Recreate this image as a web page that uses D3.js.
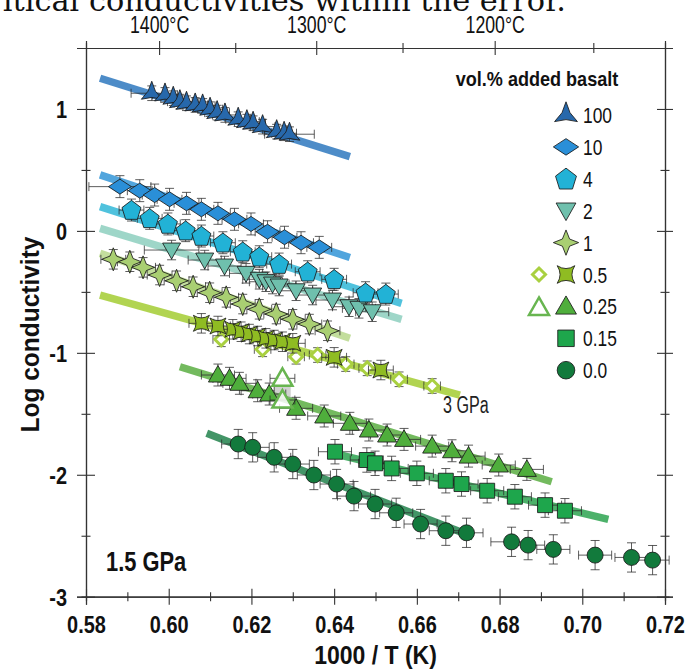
<!DOCTYPE html>
<html><head><meta charset="utf-8">
<script src="https://cdn.jsdelivr.net/npm/d3@7"></script>
<style>
body{margin:0;background:#fff;}
svg{display:block;}
</style></head>
<body><svg id="c" width="686" height="670"></svg>
<script>
// ---------- data ----------
const seriesNames = ["100","10","4","2","1","0.5","0.25","0.15","0.0"];
const xMajor = [0.58,0.60,0.62,0.64,0.66,0.68,0.70,0.72];
const xMinor = [0.59,0.61,0.63,0.65,0.67,0.69,0.71];
const xTickLabels = ["0.58","0.60","0.62","0.64","0.66","0.68","0.70","0.72"];
const yMajor = [1,0,-1,-2,-3];
const yMinor = [0.5,-0.5,-1.5,-2.5];
const yTickLabels = ["1","0","-1","-2","-3"];
const topMajorC = [1400,1300,1200];
const topMinorC = [1350,1250,1150];

const s100x = [0.5959,0.5991,0.6011,0.6027,0.6043,0.6064,0.6082,0.6100,0.6117,0.6136,0.6168,0.6189,0.6204,0.6227,0.6261,0.6279,0.6292];
const s100y = [1.129,1.115,1.088,1.060,1.047,1.033,1.025,0.998,0.970,0.951,0.916,0.896,0.883,0.855,0.814,0.801,0.793];
const s10x = [0.5882,0.5930,0.5966,0.6002,0.6043,0.6079,0.6119,0.6159,0.6199,0.6239,0.6280,0.6320,0.6364];
const s10y = [0.363,0.330,0.294,0.259,0.226,0.177,0.144,0.095,0.057,-0.007,-0.052,-0.097,-0.135];
const s4x = [0.5910,0.5954,0.5998,0.6041,0.6079,0.6131,0.6179,0.6219,0.6267,0.6336,0.6400,0.6476,0.6525];
const s4y = [0.171,0.103,0.057,0.002,-0.042,-0.097,-0.171,-0.212,-0.272,-0.335,-0.397,-0.507,-0.518];
const s2x = [0.6007,0.6087,0.6135,0.6187,0.6219,0.6235,0.6251,0.6267,0.6308,0.6348,0.6396,0.6436,0.6460,0.6492];
const s2y = [-0.157,-0.239,-0.288,-0.348,-0.397,-0.417,-0.436,-0.452,-0.491,-0.526,-0.567,-0.622,-0.635,-0.663];
const s1x = [0.5866,0.5906,0.5938,0.5978,0.6019,0.6059,0.6099,0.6139,0.6179,0.6219,0.6260,0.6300,0.6340,0.6384];
const s1y = [-0.233,-0.253,-0.299,-0.362,-0.409,-0.458,-0.507,-0.545,-0.600,-0.643,-0.682,-0.725,-0.764,-0.819];
const s05x = [0.6079,0.6119,0.6155,0.6175,0.6195,0.6215,0.6235,0.6255,0.6275,0.6300,0.6400,0.6513];
const s05y = [-0.758,-0.780,-0.807,-0.827,-0.846,-0.862,-0.881,-0.895,-0.909,-0.922,-1.037,-1.141];
const s05open3GPax = [0.6127,0.6227,0.6308,0.6360,0.6428,0.6480,0.6557,0.6637];
const s05open3GPay = [-0.889,-0.971,-1.032,-1.018,-1.092,-1.127,-1.217,-1.272];
const s025x = [0.6119,0.6147,0.6171,0.6215,0.6243,0.6308,0.6376,0.6438,0.6484,0.6528,0.6569,0.6637,0.6685,0.6725,0.6798,0.6866];
const s025y = [-1.182,-1.209,-1.250,-1.311,-1.338,-1.455,-1.518,-1.578,-1.633,-1.674,-1.710,-1.765,-1.803,-1.847,-1.920,-1.956];
const s025open3GPax = [0.6275,0.6275];
const s025open3GPay = [-1.209,-1.387];
const s015x = [0.6402,0.6479,0.6499,0.6539,0.6600,0.6670,0.6708,0.6770,0.6837,0.6910,0.6958];
const s015y = [-1.811,-1.879,-1.906,-1.948,-1.988,-2.049,-2.076,-2.131,-2.180,-2.249,-2.295];
const s0x = [0.6168,0.6203,0.6255,0.6300,0.6351,0.6406,0.6448,0.6499,0.6550,0.6609,0.6670,0.6720,0.6829,0.6869,0.6930,0.7031,0.7119,0.7170];
const s0y = [-1.748,-1.775,-1.857,-1.912,-2.002,-2.076,-2.175,-2.240,-2.312,-2.404,-2.459,-2.476,-2.550,-2.577,-2.612,-2.659,-2.678,-2.700];

// fit lines: [x0, y0, x1, y1]
const fit100 = [0.5834,1.252,0.6438,0.609];
const fit10  = [0.5834,0.459,0.6438,-0.218];
const fit4   = [0.5834,0.199,0.6563,-0.594];
const fit2   = [0.5834,0.021,0.6563,-0.725];
const fit1   = [0.5834,-0.184,0.6438,-0.881];
const fit05  = [0.5834,-0.526,0.6704,-1.346];
const fit025 = [0.6027,-1.114,0.6926,-2.057];
const fit015 = [0.6414,-1.838,0.7063,-2.366];
const fit0   = [0.6092,-1.660,0.6736,-2.509];

// error half-widths per series [xErr, yErr]
const err100=[0.003,0.06], err10=[0.003,0.09], err4=[0.003,0.09], err2=[0.004,0.08], err1=[0.003,0.08],
      err05=[0.003,0.08], err05o=[0.002,0.06], err025=[0.004,0.09], err015=[0.004,0.10], err0=[0.004,0.12];
// points with wider x error: [series, index, xErr]
const xErrOverrides = [["100",0,0.005],["100",16,0.006],["10",0,0.0075],["2",0,0.0066],["0.0",12,0.005]];

// ---------- styles ----------
const fills = {"100":"#2768ab","10":"#2a8fd8","4":"#22b2d6","2":"#6fc0ad","1":"#a9cf72","0.5":"#8fbc22","0.25":"#4fae3c","0.15":"#1ea64c","0.0":"#127a3c"};
const lineCols = {"100":"#3a80c2","10":"#3e9bd9","4":"#3dbbd9","2":"#94d2c2","1":"#bcda92","0.5":"#a8cf3e","0.25":"#64b24c","0.15":"#39a95a","0.0":"#2f8a56"};

const x = d3.scaleLinear().domain([0.58,0.72]).range([86,665]);
const y = d3.scaleLinear().domain([-3,1.5]).range([596.7,48]);
const svg = d3.select("#c");
const FONT = "'Liberation Sans',Arial,sans-serif";
function squeeze(sel,f){ sel.each(function(){ const L=this.getComputedTextLength();
  d3.select(this).attr("textLength",L*f).attr("lengthAdjust","spacingAndGlyphs"); }); return sel; }

// ---------- shapes ----------
function poly(pts){ return "M"+pts.map(p=>p[0].toFixed(2)+","+p[1].toFixed(2)).join("L")+"Z"; }
function starPts(n,r,ri,rot){ const a=[]; for(let i=0;i<2*n;i++){const rr=i%2?ri:r; const ang=rot+Math.PI*i/n; a.push([rr*Math.cos(ang),rr*Math.sin(ang)]);} return a; }
const shapes = {
  "100": s=>poly(starPts(3,12*s,4.2*s,-Math.PI/2)),
  "10":  s=>poly([[-11.5*s,0],[0,-7.5*s],[11.5*s,0],[0,7.5*s]]),
  "4":   s=>poly(d3.range(5).map(i=>{const a=-Math.PI/2+i*2*Math.PI/5;return [10*s*Math.cos(a),10.5*s*Math.sin(a)+0.8*s];})),
  "2":   s=>poly([[-9*s,-7*s],[9*s,-7*s],[0,9*s]]),
  "1":   s=>poly(starPts(4,11.5*s,4.6*s,-Math.PI/2)),
  "0.5": s=>{const a=8*s,d=2.6*s; return `M${-a},${-a}Q0,${-a+2*d} ${a},${-a}Q${a-2*d},0 ${a},${a}Q0,${a-2*d} ${-a},${a}Q${-a+2*d},0 ${-a},${-a}Z`;},
  "0.25":s=>poly([[0,-9.5*s],[9.5*s,7*s],[-9.5*s,7*s]]),
  "0.15":s=>poly([[-7.5*s,-7.5*s],[7.5*s,-7.5*s],[7.5*s,7.5*s],[-7.5*s,7.5*s]]),
  "0.0": s=>{const r=8*s; return `M${r},0A${r},${r} 0 1,1 ${-r},0A${r},${r} 0 1,1 ${r},0Z`;},
  "open05": s=>poly([[0,-6.5*s],[6.5*s,0],[0,6.5*s],[-6.5*s,0]]),
  "open025": s=>poly([[0,-10*s],[10*s,7.5*s],[-10*s,7.5*s]])
};

// ---------- top partial document text ----------
svg.append("text").attr("x",566).attr("y",11).attr("text-anchor","end")
  .attr("font-family","'DejaVu Serif','Liberation Serif',serif").attr("font-size",30.4).attr("fill","#111")
  .text("critical conductivities within the error.");

// ---------- fit lines ----------
const fits = [["100",fit100],["10",fit10],["4",fit4],["2",fit2],["1",fit1],["0.5",fit05],["0.25",fit025],["0.15",fit015],["0.0",fit0]];
const gL = svg.append("g");
fits.forEach(([k,f])=>{
  gL.append("line").attr("x1",x(f[0])).attr("y1",y(f[1])).attr("x2",x(f[2])).attr("y2",y(f[3]))
    .attr("stroke",lineCols[k]).attr("stroke-width",7.5).attr("stroke-opacity",0.9);
});

// ---------- points ----------
const series = [
  ["0.0",s0x,s0y,err0,"0.0"],
  ["0.15",s015x,s015y,err015,"0.15"],
  ["0.25",s025x,s025y,err025,"0.25"],
  ["open025",s025open3GPax,s025open3GPay,[0.003,0.0],"0.25o"],
  ["open05",s05open3GPax,s05open3GPay,err05o,"0.5o"],
  ["0.5",s05x,s05y,err05,"0.5"],
  ["1",s1x,s1y,err1,"1"],
  ["2",s2x,s2y,err2,"2"],
  ["4",s4x,s4y,err4,"4"],
  ["10",s10x,s10y,err10,"10"],
  ["100",s100x,s100y,err100,"100"]
];
// grey band behind open 3 GPa triangles
svg.append("rect").attr("x",x(s025open3GPax[0]-0.002)).attr("width",x(0.584)-x(0.58))
  .attr("y",y(s025open3GPay[0])+6).attr("height",y(s025open3GPay[1])-y(s025open3GPay[0])-8)
  .attr("fill","#9a9a9a").attr("opacity",0.45);

function drawErr(g,px,py,ex,ey){
  const cap=4.5, col="#2a2a2a";
  const x0=x(px-ex),x1=x(px+ex),y0=y(py-ey),y1=y(py+ey),cx=x(px),cy=y(py);
  g.append("path").attr("d",`M${x0},${cy}H${x1}M${x0},${cy-cap}V${cy+cap}M${x1},${cy-cap}V${cy+cap}`+
     (ey>0?`M${cx},${y0}V${y1}M${cx-cap},${y0}H${cx+cap}M${cx-cap},${y1}H${cx+cap}`:""))
   .attr("stroke",col).attr("stroke-width",0.9).attr("fill","none").attr("stroke-opacity",0.85);
}
series.forEach(([k,xs,ys,e,cat])=>{
  const g = svg.append("g");
  xs.forEach((v,i)=>{
    const o = xErrOverrides.find(d=>d[0]===cat && d[1]===i);
    drawErr(g,v,ys[i],o?o[2]:e[0],e[1]);
  });
  xs.forEach((v,i)=>{
    const p = g.append("path").attr("d",shapes[k](1)).attr("transform",`translate(${x(v)},${y(ys[i])})`);
    if(k==="open05") p.attr("fill","#fff").attr("stroke","#a9d040").attr("stroke-width",3);
    else if(k==="open025") p.attr("fill","#fff").attr("fill-opacity",0.85).attr("stroke","#68b550").attr("stroke-width",2.5);
    else p.attr("fill",fills[cat]).attr("stroke","#1b1b1b").attr("stroke-width",1).attr("stroke-opacity",0.85);
  });
});

// ---------- axes ----------
const axCol="#333";
function styleAxis(g){ g.select(".domain").attr("stroke",axCol).attr("stroke-width",1.2);
  g.selectAll(".tick line").attr("stroke",axCol).attr("stroke-width",1.1); }
// bottom
const gB = svg.append("g").attr("transform",`translate(0,${y(-3)})`)
  .call(d3.axisBottom(x).tickValues(xMajor).tickFormat((d,i)=>xTickLabels[i]).tickSizeOuter(0).tickSize(8));
styleAxis(gB); gB.selectAll(".tick line").attr("y1",-8).attr("y2",8);
squeeze(gB.selectAll(".tick text").attr("y",36).attr("dy",0).attr("font-family",FONT).attr("font-weight","bold").attr("font-size",24).attr("fill","#111"),0.83);
const gBm = svg.append("g").attr("transform",`translate(0,${y(-3)})`)
  .call(d3.axisBottom(x).tickValues(xMinor).tickFormat("").tickSizeOuter(0).tickSize(4.5));
styleAxis(gBm); gBm.selectAll(".tick line").attr("y1",-4.5);
// top
const gT = svg.append("g").attr("transform",`translate(0,${y(1.5)})`)
  .call(d3.axisTop(x).tickValues(topMajorC.map(c=>1000/(c+273.15))).tickFormat((d,i)=>topMajorC[i]+"°C").tickSizeOuter(0).tickSize(7));
styleAxis(gT); gT.selectAll(".tick line").attr("y1",7).attr("y2",-7);
squeeze(gT.selectAll(".tick text").attr("y",-15).attr("dy",0).attr("font-family",FONT).attr("font-size",23).attr("fill","#111"),0.77);
const gTm = svg.append("g").attr("transform",`translate(0,${y(1.5)})`)
  .call(d3.axisTop(x).tickValues(topMinorC.map(c=>1000/(c+273.15))).tickFormat("").tickSizeOuter(0).tickSize(5));
styleAxis(gTm); gTm.selectAll(".tick line").attr("y1",5);
// left
const gLft = svg.append("g").attr("transform",`translate(${x(0.58)},0)`)
  .call(d3.axisLeft(y).tickValues(yMajor).tickFormat((d,i)=>yTickLabels[i]).tickSizeOuter(0).tickSize(9));
styleAxis(gLft); gLft.selectAll(".tick line").attr("x1",9).attr("x2",-9);
squeeze(gLft.selectAll(".tick text").attr("x",-19).attr("dy","0.36em").attr("font-family",FONT).attr("font-weight","bold").attr("font-size",24).attr("fill","#111"),0.83);
const gLm = svg.append("g").attr("transform",`translate(${x(0.58)},0)`)
  .call(d3.axisLeft(y).tickValues(yMinor).tickFormat("").tickSizeOuter(0).tickSize(4.5));
styleAxis(gLm); gLm.selectAll(".tick line").attr("x1",4.5);
// right
const gR = svg.append("g").attr("transform",`translate(${x(0.72)},0)`)
  .call(d3.axisRight(y).tickValues(yMajor).tickFormat("").tickSizeOuter(0).tickSize(8));
styleAxis(gR); gR.selectAll(".tick line").attr("x1",-8);
const gRm = svg.append("g").attr("transform",`translate(${x(0.72)},0)`)
  .call(d3.axisRight(y).tickValues(yMinor).tickFormat("").tickSizeOuter(0).tickSize(4.5));
styleAxis(gRm); gRm.selectAll(".tick line").attr("x1",-4.5);

// ---------- titles ----------
squeeze(svg.append("text").attr("x",x(0.65)).attr("y",664).attr("text-anchor","middle")
  .attr("font-family",FONT).attr("font-weight","bold").attr("font-size",25).attr("fill","#111").text("1000 / T (K)"),0.92);
squeeze(svg.append("text").attr("transform",`translate(39,${y(-0.85)}) rotate(-90)`).attr("text-anchor","middle")
  .attr("font-family",FONT).attr("font-weight","bold").attr("font-size",25).attr("fill","#111").text("Log conductivity"),0.98);
squeeze(svg.append("text").attr("x",106).attr("y",571).attr("font-family",FONT).attr("font-weight","bold")
  .attr("font-size",28).attr("fill","#111").text("1.5 GPa"),0.78);
squeeze(svg.append("text").attr("x",443).attr("y",413).attr("font-family",FONT).attr("font-size",23).attr("fill","#222").text("3 GPa"),0.7);

// ---------- legend ----------
const lg = svg.append("g");
squeeze(lg.append("text").attr("x",537).attr("y",86).attr("text-anchor","middle").attr("font-family",FONT)
  .attr("font-weight","bold").attr("font-size",21).attr("fill","#111").text("vol.% added basalt"),0.86);
seriesNames.forEach((k,i)=>{
  const cy = 115 + i*31.9;
  lg.append("path").attr("d",shapes[k](1.1)).attr("transform",`translate(566,${cy})`)
    .attr("fill",fills[k]).attr("stroke","#1b1b1b").attr("stroke-width",1).attr("stroke-opacity",0.85);
  squeeze(lg.append("text").attr("x",583).attr("y",cy+8).attr("font-family",FONT).attr("font-size",22).attr("fill","#111").text(k),0.79);
  if(k==="0.5") lg.append("path").attr("d",shapes.open05(1)).attr("transform",`translate(539,${cy})`)
    .attr("fill","#fff").attr("stroke","#a9d040").attr("stroke-width",3);
  if(k==="0.25") lg.append("path").attr("d",shapes.open025(1)).attr("transform",`translate(539,${cy+1})`)
    .attr("fill","#fff").attr("stroke","#68b550").attr("stroke-width",2.5);
});
</script></body></html>
